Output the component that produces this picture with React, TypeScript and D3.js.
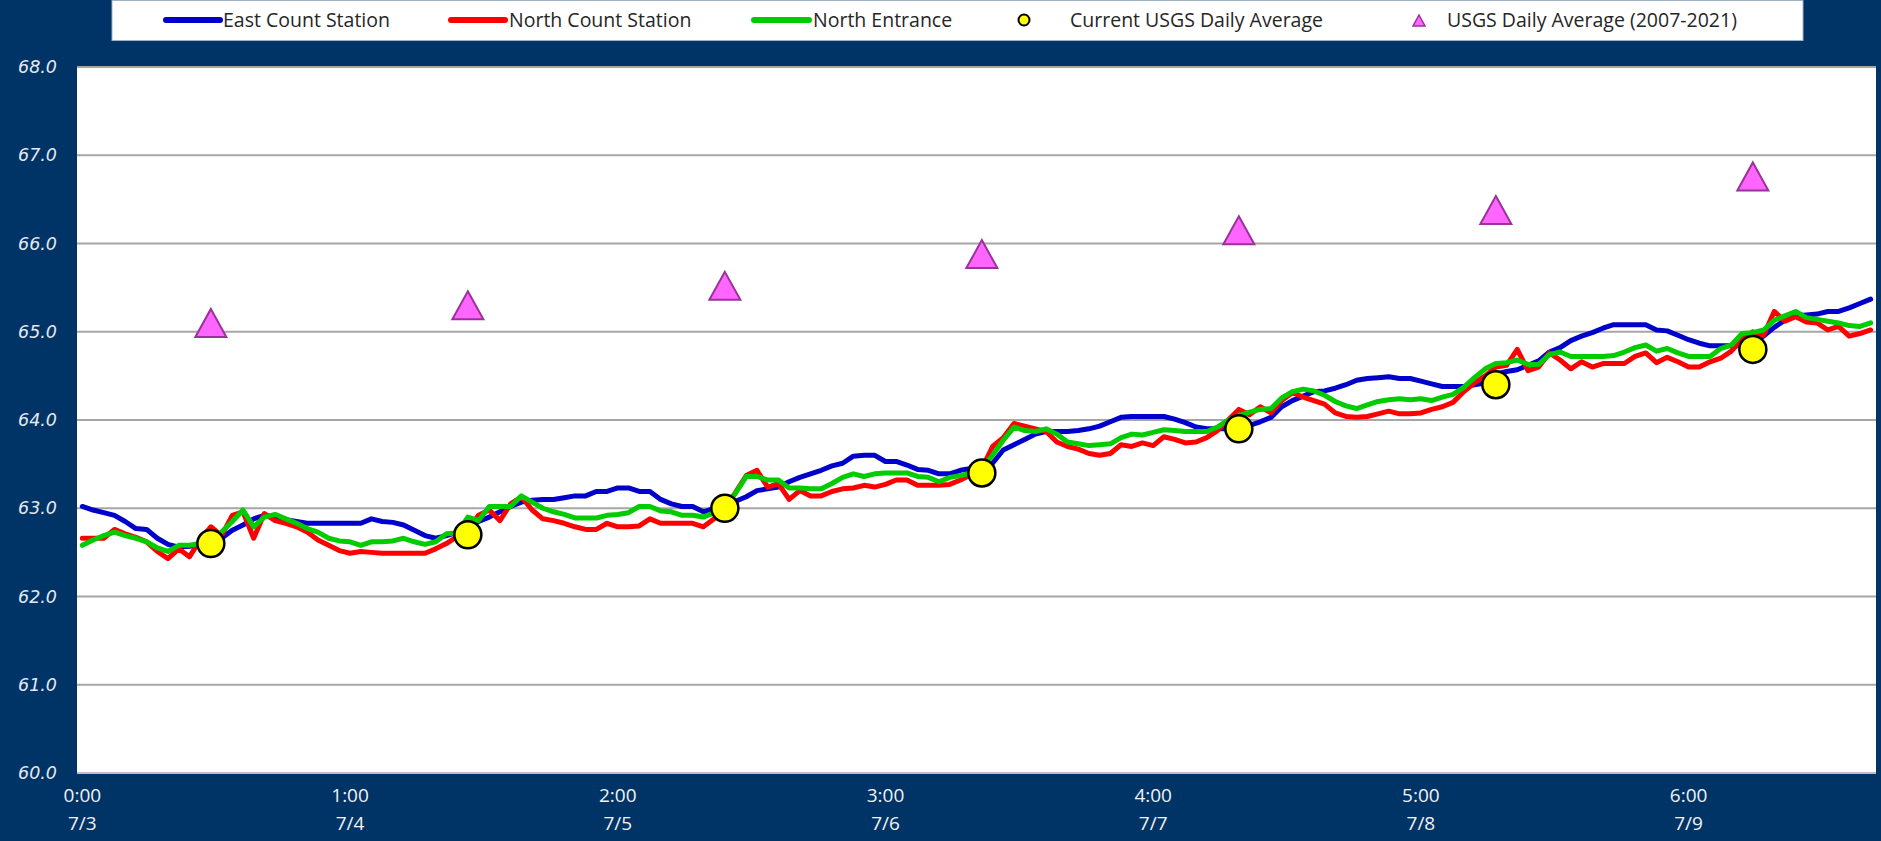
import React from "react";
import * as d3 from "d3";

// hourly readings, 7/3 0:00 .. 7/9 23:00
const eastCount: number[] = [
  63.02, 62.98, 62.95, 62.92, 62.85, 62.77, 62.76, 62.66, 62.59, 62.56, 62.57, 62.58,
  62.6, 62.66, 62.75, 62.81, 62.88, 62.92, 62.9, 62.87, 62.85, 62.83, 62.83, 62.83,
  62.83, 62.83, 62.83, 62.88, 62.85, 62.84, 62.81, 62.75, 62.69, 62.66, 62.69, 62.73,
  62.79, 62.85, 62.9, 62.96, 63.02, 63.07, 63.09, 63.1, 63.1, 63.12, 63.14, 63.14,
  63.19, 63.19, 63.23, 63.23, 63.19, 63.19, 63.1, 63.05, 63.02, 63.02, 62.96, 63.0,
  63.03, 63.08, 63.13, 63.2, 63.22, 63.24, 63.3, 63.35, 63.39, 63.43, 63.48, 63.51,
  63.59, 63.6, 63.6, 63.53, 63.53, 63.49, 63.44, 63.43, 63.39, 63.39, 63.43, 63.45,
  63.42, 63.51, 63.66, 63.72, 63.78, 63.84, 63.87, 63.87, 63.87, 63.88, 63.9, 63.93,
  63.98, 64.03, 64.04, 64.04, 64.04, 64.04, 64.01, 63.97, 63.92, 63.9, 63.9, 63.9,
  63.9, 63.94, 63.98, 64.03, 64.15, 64.22, 64.27, 64.32, 64.33, 64.36, 64.4, 64.45,
  64.47, 64.48, 64.49, 64.47, 64.47, 64.44, 64.41, 64.38, 64.38, 64.38, 64.4, 64.42,
  64.52, 64.55, 64.57, 64.62, 64.67, 64.77, 64.82, 64.9, 64.95, 64.99, 65.04, 65.08,
  65.08, 65.08, 65.08, 65.02, 65.01, 64.96, 64.91, 64.87, 64.84, 64.84, 64.84, 64.84,
  64.9, 64.95, 65.05, 65.13, 65.18, 65.19, 65.2, 65.23, 65.23, 65.27, 65.32, 65.37,
];

const northCount: number[] = [
  62.66, 62.66, 62.66, 62.76, 62.71, 62.67, 62.62, 62.51, 62.43, 62.54, 62.45, 62.64,
  62.79, 62.69, 62.92, 62.96, 62.66, 62.94, 62.86, 62.83, 62.79, 62.73, 62.64, 62.58,
  62.52, 62.49, 62.51, 62.5, 62.49, 62.49, 62.49, 62.49, 62.49, 62.54, 62.6, 62.68,
  62.75, 62.92, 62.98, 62.86, 63.05, 63.13, 62.98, 62.88, 62.86, 62.83, 62.79, 62.76,
  62.76, 62.83, 62.79, 62.79, 62.8, 62.88, 62.83, 62.83, 62.83, 62.83, 62.79, 62.88,
  63.0, 63.18, 63.37, 63.43, 63.24, 63.28, 63.1, 63.2, 63.14, 63.14, 63.19, 63.22,
  63.23, 63.26, 63.24, 63.27, 63.32, 63.32, 63.26, 63.26, 63.26, 63.27, 63.32, 63.38,
  63.45, 63.7, 63.8, 63.96, 63.93, 63.9, 63.87, 63.75, 63.7, 63.67, 63.62, 63.6,
  63.62, 63.72, 63.7, 63.74, 63.71, 63.81, 63.78, 63.74, 63.75, 63.8, 63.88, 64.0,
  64.12, 64.06, 64.15, 64.08, 64.22, 64.31, 64.26, 64.22, 64.18, 64.08, 64.04, 64.03,
  64.04, 64.07, 64.1, 64.07, 64.07, 64.08, 64.12, 64.15, 64.2, 64.32, 64.42, 64.5,
  64.6, 64.62, 64.8, 64.56, 64.6, 64.76, 64.68, 64.58, 64.66, 64.6, 64.64, 64.64,
  64.64, 64.72, 64.76, 64.65, 64.71, 64.66, 64.6, 64.6, 64.66, 64.7, 64.78, 64.92,
  65.0, 64.96, 65.23, 65.12, 65.17, 65.11, 65.1, 65.02, 65.06, 64.95, 64.98, 65.02,
];

const northEntrance: number[] = [
  62.58, 62.64, 62.69, 62.73, 62.69, 62.66, 62.62, 62.55, 62.51, 62.58, 62.58, 62.6,
  62.64, 62.73, 62.85, 62.98, 62.79, 62.9, 62.93, 62.88, 62.83, 62.77, 62.73, 62.66,
  62.63, 62.62, 62.58, 62.62, 62.62, 62.63, 62.66, 62.62, 62.59, 62.62, 62.71, 62.72,
  62.9, 62.86, 63.02, 63.02, 63.02, 63.14, 63.07, 63.0, 62.96, 62.93, 62.89, 62.89,
  62.89, 62.92, 62.93, 62.95, 63.02, 63.02, 62.97, 62.96, 62.92, 62.92, 62.9, 62.95,
  63.02, 63.17, 63.36, 63.36, 63.32, 63.32, 63.23, 63.23, 63.22, 63.22, 63.28, 63.35,
  63.39, 63.36, 63.39, 63.4, 63.4, 63.4, 63.36, 63.35, 63.3, 63.35, 63.37, 63.4,
  63.45, 63.6, 63.77, 63.92, 63.88, 63.87, 63.9, 63.84, 63.75, 63.73, 63.71, 63.72,
  63.73, 63.8, 63.84, 63.83, 63.86, 63.89, 63.88, 63.87, 63.87, 63.87, 63.92, 64.0,
  64.05, 64.09, 64.12, 64.13, 64.25, 64.32, 64.35, 64.33, 64.28, 64.21, 64.16, 64.13,
  64.17, 64.21, 64.23, 64.24, 64.23, 64.24, 64.22, 64.26, 64.29, 64.37, 64.48, 64.58,
  64.64, 64.65, 64.68, 64.63, 64.63, 64.74, 64.77, 64.72, 64.72, 64.72, 64.72, 64.73,
  64.77, 64.82, 64.85, 64.78, 64.81, 64.76, 64.72, 64.72, 64.72, 64.81, 64.85, 64.98,
  64.99, 65.02, 65.13, 65.18, 65.23, 65.16, 65.14, 65.12, 65.1, 65.07, 65.06, 65.1,
];

// daily averages, plotted at noon of each day
const usgsHours = [12, 36, 60, 84, 108, 132, 156];
const usgsCurrent = [62.6, 62.7, 63.0, 63.4, 63.9, 64.4, 64.8];
const usgsHistoric = [65.1, 65.3, 65.52, 65.88, 66.15, 66.38, 66.76];

const tickHours = [0, 25, 50, 75, 100, 125, 150];
const tickTimes = ["0:00", "1:00", "2:00", "3:00", "4:00", "5:00", "6:00"];
const tickDates = ["7/3", "7/4", "7/5", "7/6", "7/7", "7/8", "7/9"];
const yTicks = [60, 61, 62, 63, 64, 65, 66, 67, 68];

const W = 1881;
const H = 841;
const plot = { left: 77, right: 1876, top: 67, bottom: 773 };
const BG = "#003366";
const FONT = "'Open Sans', sans-serif";

const triPath = (w: number, h: number) =>
  `M0,${-h / 2}L${w / 2},${h / 2}L${-w / 2},${h / 2}Z`;

export default function App() {
  const x = d3
    .scaleLinear()
    .domain([-0.5, eastCount.length - 0.5])
    .range([plot.left, plot.right]);
  const y = d3.scaleLinear().domain([60, 68]).range([plot.bottom, plot.top]);

  const line = d3
    .line<number>()
    .x((_, i) => x(i))
    .y((d) => y(d));

  const series = [
    { name: "East Count Station", data: eastCount, color: "#0000cc" },
    { name: "North Count Station", data: northCount, color: "#ff0000" },
    { name: "North Entrance", data: northEntrance, color: "#00cc00" },
  ];

  const legendLines = [
    { x1: 166, x2: 220, tx: 223, ...series[0] },
    { x1: 451, x2: 505, tx: 509, ...series[1] },
    { x1: 754, x2: 809, tx: 813, ...series[2] },
  ];

  return (
    <svg
      width={W}
      height={H}
      style={{ position: "absolute", left: 0, top: 0, display: "block" }}
    >
      <rect x={0} y={0} width={W} height={H} fill={BG} />

      {/* legend */}
      <rect x={112} y={0.5} width={1691} height={40} fill="#fff" stroke="#9fb3c8" strokeWidth={1} />
      {legendLines.map((l) => (
        <g key={l.name}>
          <line x1={l.x1} x2={l.x2} y1={20} y2={20} stroke={l.color} strokeWidth={6} strokeLinecap="round" />
          <text x={l.tx} y={27} fontFamily={FONT} fontSize={19.5} fill="#262626">
            {l.name}
          </text>
        </g>
      ))}
      <circle cx={1024} cy={20} r={5.5} fill="#ffff00" stroke="#000" strokeWidth={2} />
      <text x={1070} y={27} fontFamily={FONT} fontSize={19.5} fill="#262626">
        Current USGS Daily Average
      </text>
      <path d={triPath(12, 11)} transform="translate(1419,20.5)" fill="#ff66ff" stroke="#993399" strokeWidth={1.5} />
      <text x={1447} y={27} fontFamily={FONT} fontSize={19.5} fill="#262626">
        USGS Daily Average (2007-2021)
      </text>

      {/* plot area */}
      <rect
        x={plot.left}
        y={plot.top}
        width={plot.right - plot.left}
        height={plot.bottom - plot.top}
        fill="#fff"
      />
      {yTicks.map((t) => (
        <line
          key={t}
          x1={plot.left}
          x2={plot.right}
          y1={y(t)}
          y2={y(t)}
          stroke={t === 60 ? "#bfbfbf" : "#a6a6a6"}
          strokeWidth={2}
        />
      ))}

      {yTicks.map((t) => (
        <text
          key={t}
          x={57}
          y={y(t)}
          textAnchor="end"
          dominantBaseline="central"
          fontFamily="'DejaVu Sans', sans-serif"
          fontStyle="italic"
          fontSize={17.5}
          fill="#e4e9ef"
        >
          {t.toFixed(1)}
        </text>
      ))}

      {tickHours.map((h, i) => (
        <g key={h}>
          <text x={x(h)} y={802} textAnchor="middle" fontFamily={FONT} fontSize={19} fill="#f2f2f2">
            {tickTimes[i]}
          </text>
          <text x={x(h)} y={830} textAnchor="middle" fontFamily={FONT} fontSize={19} fill="#f2f2f2">
            {tickDates[i]}
          </text>
        </g>
      ))}

      {series.map((s) => (
        <path
          key={s.name}
          d={line(s.data) || ""}
          fill="none"
          stroke={s.color}
          strokeWidth={5}
          strokeLinejoin="round"
          strokeLinecap="round"
        />
      ))}

      {usgsHours.map((h, i) => (
        <circle
          key={`c${h}`}
          cx={x(h)}
          cy={y(usgsCurrent[i])}
          r={13.5}
          fill="#ffff00"
          stroke="#000"
          strokeWidth={2.5}
        />
      ))}
      {usgsHours.map((h, i) => (
        <path
          key={`t${h}`}
          d={triPath(31, 28)}
          transform={`translate(${x(h)},${y(usgsHistoric[i])})`}
          fill="#ff66ff"
          stroke="#993399"
          strokeWidth={2}
        />
      ))}
    </svg>
  );
}
